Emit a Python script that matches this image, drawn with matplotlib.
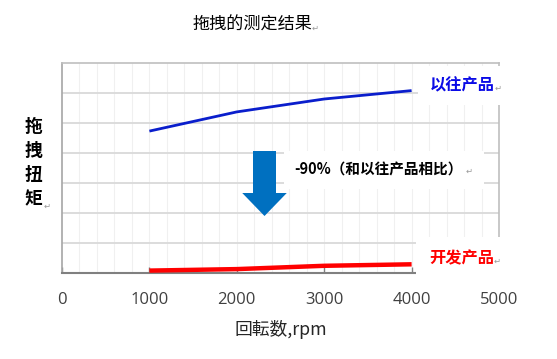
import matplotlib.pyplot as plt
from matplotlib.patches import Rectangle, FancyArrow

# data (torque has no scale, units are gridlines)
rpm = [1000, 2000, 3000, 4000]
torque_old = [4.73, 5.37, 5.80, 6.08]
torque_new = [0.08, 0.13, 0.24, 0.29]
x_ticks = [0, 1000, 2000, 3000, 4000, 5000]

cjk = ['Noto Sans CJK SC', 'DejaVu Sans']
jp = ['Noto Sans CJK JP', 'Open Sans', 'DejaVu Sans']

fig = plt.figure(figsize=(5.57, 3.59), dpi=100)
ax = fig.add_axes([62 / 557, 1 - 273 / 359, 437 / 557, 210 / 359])

ax.set_xlim(0, 5000)
ax.set_ylim(0, 7)

# light vertical minor grid, gray horizontal grid
for xv in range(200, 5000, 200):
    ax.axvline(xv, color='#F0F0F0', lw=0.8, zorder=0)
for yv in range(1, 7):
    ax.axhline(yv, color='#D9D9D9', lw=1.3, zorder=0)

ax.plot(rpm, torque_old, color='#0A1ECC', lw=2.0, solid_capstyle='butt', zorder=3)
ax.plot(rpm, torque_new, color='#FF0000', lw=3.2, solid_capstyle='butt', zorder=3)

ax.set_xticks(x_ticks)
ax.set_xticklabels([str(v) for v in x_ticks], fontsize=12, family='Open Sans', color='#404040')
ax.set_yticks([])
ax.tick_params(axis='x', direction='in', length=4.5, width=1, color='#808080', pad=14)

ax.spines['top'].set_color('#BFBFBF')
ax.spines['right'].set_color('#BFBFBF')
ax.spines['left'].set_color('#A6A6A6')
ax.spines['bottom'].set_color('#808080')
for s in ['top', 'right', 'left']:
    ax.spines[s].set_linewidth(1.2)
ax.spines['bottom'].set_linewidth(1.5)

W, H = 557, 359


def box(x0, y0, x1, y1):
    # white box in pixel coords (y from top)
    r = Rectangle((x0 / W, 1 - y1 / H), (x1 - x0) / W, (y1 - y0) / H,
                  transform=fig.transFigure, facecolor='white', edgecolor='none', zorder=5)
    fig.add_artist(r)


def ftext(x, y, s, **kw):
    fig.text(x / W, 1 - y / H, s, zorder=6, **kw)


# label boxes cover the grid like in the word document
box(418, 66, 557, 105)
box(284, 151, 484, 189)
box(416, 237, 557, 285)

ftext(430, 85, '以往产品', color='#0A0AE6', fontsize=11.7, fontweight='bold',
      family=cjk, va='center', ha='left')
ftext(495, 88, '↵', color='#999999', fontsize=6, family='DejaVu Sans', va='center')
ftext(429, 258, '开发产品', color='#FF0000', fontsize=11.7, fontweight='bold',
      family=cjk, va='center', ha='left')
ftext(494, 261, '↵', color='#999999', fontsize=6, family='DejaVu Sans', va='center')
ftext(294, 169, '-90%（和以往产品相比）', color='black', fontsize=10.5, fontweight='bold',
      family=cjk, va='center', ha='left')
ftext(466, 171, '↵', color='#999999', fontsize=6, family='DejaVu Sans', va='center')

# big blue down arrow
arr = FancyArrow(264.5 / W, 1 - 151 / H, 0, -(216 - 151) / H,
                 width=23 / W, head_width=44.5 / W, head_length=23 / H,
                 length_includes_head=True, transform=fig.transFigure,
                 facecolor='#0070C0', edgecolor='none', zorder=6)
fig.add_artist(arr)

# title and axis labels
ftext(252, 25, '拖拽的测定结果', color='black', fontsize=12.3, family=cjk,
      va='center', ha='center')
ftext(312, 28, '↵', color='#999999', fontsize=6, family='DejaVu Sans', va='center')
ftext(33.5, 163, '拖\n拽\n扭\n矩', color='black', fontsize=12.8, fontweight='bold',
      family=cjk, va='center', ha='center', linespacing=1.45)
ftext(44, 206, '↵', color='#999999', fontsize=6, family='DejaVu Sans', va='center')
ftext(281, 329, '回転数,rpm', color='#262626', fontsize=12.8, family=jp,
      va='center', ha='center')

fig.savefig('out.png', dpi=100)
